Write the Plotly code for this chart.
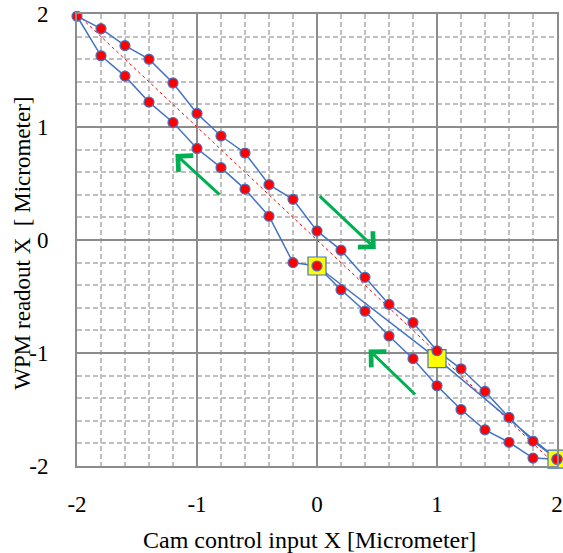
import plotly.graph_objects as go

# Step moves from start (big steps)
step_x = [0.0, 1.0, 2.0]
step_y = [-0.23, -1.05, -1.94]

# Return branch (x decreasing)
down_x = [2.0, 1.8, 1.6, 1.4, 1.2, 1.0, 0.8, 0.6, 0.4, 0.2, 0.0, -0.2, -0.4, -0.6, -0.8, -1.0, -1.2, -1.4, -1.6, -1.8, -2.0]
down_y = [-1.94, -1.93, -1.79, -1.68, -1.50, -1.29, -1.05, -0.85, -0.63, -0.44, -0.23, -0.20, 0.21, 0.45, 0.64, 0.81, 1.04, 1.22, 1.45, 1.63, 1.98]

# Forward branch (x increasing)
up_x = [-1.8, -1.6, -1.4, -1.2, -1.0, -0.8, -0.6, -0.4, -0.2, 0.0, 0.2, 0.4, 0.6, 0.8, 1.0, 1.2, 1.4, 1.6, 1.8, 2.0]
up_y = [1.87, 1.72, 1.60, 1.39, 1.12, 0.92, 0.77, 0.49, 0.36, 0.08, -0.09, -0.33, -0.57, -0.73, -0.98, -1.14, -1.34, -1.57, -1.78, -1.94]

# Ideal response line
ideal_x = [-2.0, 2.0]
ideal_y = [2.0, -2.0]

# Direction arrows (tail -> tip)
arrow_tail_x = [0.01, -0.80, 0.83]
arrow_tail_y = [0.40, 0.39, -1.38]
arrow_tip_x = [0.49, -1.18, 0.43]
arrow_tip_y = [-0.08, 0.76, -0.97]

tick_vals = [-2, -1, 0, 1, 2]
tick_text = ["-2", "-1", "0", "1", "2"]

x_title = "Cam control input X [Micrometer]"
y_title = "WPM readout X  [ Micrometer]"

BLUE = "#4472C4"
FONT = "Liberation Serif"

path_x = step_x + down_x[1:] + up_x
path_y = step_y + down_y[1:] + up_y

fig = go.Figure()
fig.add_trace(go.Scatter(x=ideal_x, y=ideal_y, mode="lines",
                         line=dict(color="#FF0000", width=1, dash="dot"),
                         hoverinfo="skip", cliponaxis=False))
fig.add_trace(go.Scatter(x=path_x, y=path_y, mode="lines",
                         line=dict(color=BLUE, width=1.5), cliponaxis=False))
fig.add_trace(go.Scatter(x=step_x, y=step_y, mode="markers",
                         marker=dict(symbol="square", size=18, color="#FFFF00",
                                     line=dict(color=BLUE, width=1.2)),
                         cliponaxis=False))
fig.add_trace(go.Scatter(x=down_x + up_x, y=down_y + up_y, mode="markers",
                         marker=dict(symbol="circle", size=10, color="#FF0000",
                                     line=dict(color=BLUE, width=1.2)),
                         cliponaxis=False))

for tx, ty, hx, hy in zip(arrow_tail_x, arrow_tail_y, arrow_tip_x, arrow_tip_y):
    fig.add_annotation(x=hx, y=hy, ax=tx, ay=ty, xref="x", yref="y",
                       axref="x", ayref="y", text="", showarrow=True,
                       arrowhead=4, arrowsize=1.4, arrowwidth=3,
                       arrowcolor="#00B050")

# Axis titles placed as annotations for precise positioning
fig.add_annotation(text=x_title, xref="paper", yref="paper", x=0.485, y=-0.164,
                   xanchor="center", yanchor="middle", showarrow=False,
                   font=dict(family=FONT, size=24, color="black"))
fig.add_annotation(text=y_title, xref="paper", yref="paper", x=-0.1135, y=0.493,
                   xanchor="center", yanchor="middle", showarrow=False, textangle=-90,
                   font=dict(family=FONT, size=23, color="black"))

axis_common = dict(
    range=[-2, 2], tickvals=tick_vals, ticktext=tick_text,
    showgrid=True, gridcolor="#8C8C8C", gridwidth=2,
    zeroline=False, showline=True, mirror=True, linecolor="#8C8C8C", linewidth=2,
    tickfont=dict(family=FONT, size=23, color="black"),
    minor=dict(dtick=0.2, tick0=0, showgrid=True, gridcolor="#C0C0C0",
               gridwidth=1.5, griddash="5px,3px"),
    ticks="", fixedrange=True, automargin=False,
)

fig.update_layout(
    width=563, height=553,
    margin=dict(l=77, r=6, t=14, b=87),
    paper_bgcolor="white", plot_bgcolor="white",
    showlegend=False,
    font=dict(family=FONT, size=23, color="black"),
    xaxis=dict(**axis_common, ticklabelstandoff=16),
    yaxis=dict(**axis_common, ticklabelstandoff=22),
)

fig.write_html("out.html", config={"displayModeBar": False},
               post_script="document.body.style.margin='0px';document.body.style.overflow='hidden';")
